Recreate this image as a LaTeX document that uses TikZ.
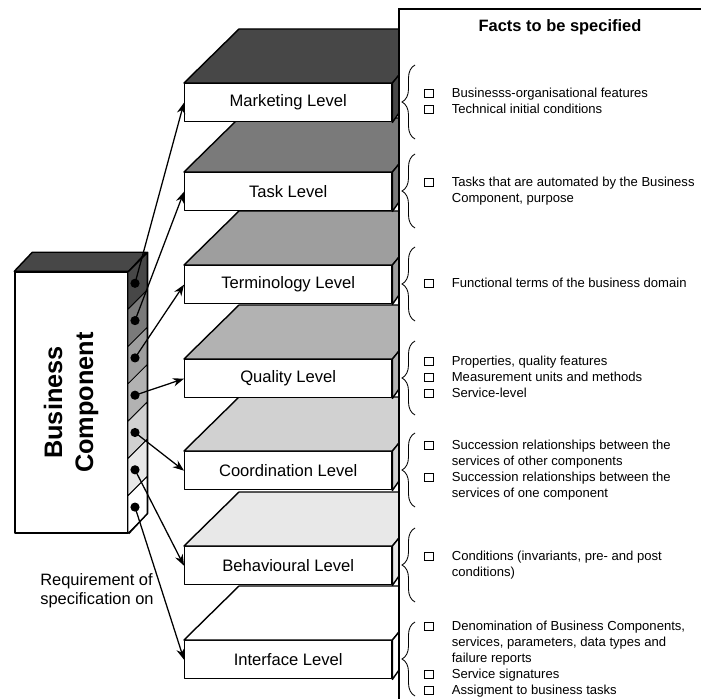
\documentclass[tikz,border=0pt]{standalone}
\usepackage{fontspec}
\setmainfont{Liberation Sans}
\usetikzlibrary{arrows.meta,decorations.pathreplacing}

\newcommand{\chkbox}{{\setlength{\fboxsep}{0pt}\setlength{\fboxrule}{0.5pt}\fbox{\rule{0pt}{5.2pt}\hspace{5.8pt}}}}

\tikzset{
  face/.style={draw=black, line width=1pt, line join=round},
  lvlbox/.style={face, fill=white, anchor=north west, inner sep=0pt,
    minimum width=51.75mm, minimum height=9.5mm, font=\fontsize{11.8}{14}\selectfont},
  facts/.style={anchor=west, inner sep=0pt, font=\fontsize{9.3}{11.4}\selectfont},
  lbrace/.style={draw, line width=0.6pt, decorate, decoration={brace, amplitude=3.25mm}},
  spot/.style={circle, fill=black, inner sep=0pt, minimum size=2.3mm},
  req/.style={-{Stealth[length=2.8mm,width=2.1mm]}, line width=0.9pt},
}

\begin{document}
\begin{tikzpicture}[x=0.25mm,y=-0.25mm]
 \useasboundingbox (0,0) rectangle (701,699);
 % the business component block
 \node[face, fill=white, inner sep=0pt, minimum width=28.25mm, minimum height=65.25mm,
   font=\bfseries\fontsize{18}{22}\selectfont] (bc) at (71.5,402.5)
   {\rotatebox{90}{\begin{tabular}{@{}c@{}}Business\\Component\end{tabular}}};
 \draw[face, fill=black!72] (bc.north west) -- ++(18,-19) -- ++(114,0) -- (bc.north east) -- cycle;
 \foreach \k/\shade in {0/black!72,1/black!52,2/black!38,3/black!30,4/black!18,5/black!9,6/white}
   \draw[line width=0.6pt, fill=\shade] (128,272+37.3*\k) -- ++(19,-19) -- ++(0,37.3) -- ++(-19,19) -- cycle;
 \draw[face] (bc.north east) -- ++(19,-19) -- ++(0,261) -- (bc.south east);
 % the levels, from the bottom up
 \foreach \name/\txt/\top/\shade in {ifc/Interface Level/640/white, beh/Behavioural Level/546/black!9,
     coo/Coordination Level/451/black!18, qua/Quality Level/359/black!30,
     ter/Terminology Level/265/black!38, tsk/Task Level/172/black!52, mkt/Marketing Level/83/black!72} {
   \node[lvlbox] (\name) at (184,\top) {\txt};
   \draw[face, fill=\shade] (\name.north west) -- ++(55,-54) -- (399,\top-54) -- (399,\top-8) -- (\name.north east) -- cycle;
   \draw[face, fill=\shade] (\name.north east) -- (399,\top-8) -- (399,\top+30) -- (\name.south east) -- cycle;
 }
 % facts panel
 \fill[white] (399,9) rectangle (705,705);
 \draw[line width=1.1pt] (399,705) -- (399,9) -- (705,9);
 \node[font=\bfseries\fontsize{11.7}{14}\selectfont] (head) at (560,27) {Facts to be specified};
 \foreach \top in {83,172,265,359,451,546,640}
   \draw[lbrace] (415,\top+56) -- (415,\top-18);
 \node[facts] (fmkt) at (424,102) {\begin{tabular}{@{}l@{\hspace{4.5mm}}l@{}}
   \chkbox & Businesss-organisational features\\
   \chkbox & Technical initial conditions\end{tabular}};
 \node[facts] (ftsk) at (424,191) {\begin{tabular}{@{}l@{\hspace{4.5mm}}l@{}}
   \chkbox & Tasks that are automated by the Business\\
   & Component, purpose\end{tabular}};
 \node[facts] (fter) at (424,284) {\begin{tabular}{@{}l@{\hspace{4.5mm}}l@{}}
   \chkbox & Functional terms of the business domain\end{tabular}};
 \node[facts] (fqua) at (424,378) {\begin{tabular}{@{}l@{\hspace{4.5mm}}l@{}}
   \chkbox & Properties, quality features\\
   \chkbox & Measurement units and methods\\
   \chkbox & Service-level\end{tabular}};
 \node[facts] (fcoo) at (424,470) {\begin{tabular}{@{}l@{\hspace{4.5mm}}l@{}}
   \chkbox & Succession relationships between the\\
   & services of other components\\
   \chkbox & Succession relationships between the\\
   & services of one component\end{tabular}};
 \node[facts] (fbeh) at (424,565) {\begin{tabular}{@{}l@{\hspace{4.5mm}}l@{}}
   \chkbox & Conditions (invariants, pre- and post\\
   & conditions)\end{tabular}};
 \node[facts] (fifc) at (424,659) {\begin{tabular}{@{}l@{\hspace{4.5mm}}l@{}}
   \chkbox & Denomination of Business Components,\\
   & services, parameters, data types and\\
   & failure reports\\
   \chkbox & Service signatures\\
   \chkbox & Assigment to business tasks\end{tabular}};
 % requirements
 \foreach \k in {1,...,7}
   \node[spot] (d\k) at (135,246+37.3*\k) {};
 \foreach \k/\name in {1/mkt,2/tsk,3/ter,4/qua,5/coo,6/beh,7/ifc}
   \draw[req] (d\k.center) -- (\name.west);
 \node[anchor=west, align=left, inner sep=0pt, font=\fontsize{11.7}{13.5}\selectfont] (reqtxt) at (40,591)
   {Requirement of\\specification on};
\end{tikzpicture}
\end{document}
